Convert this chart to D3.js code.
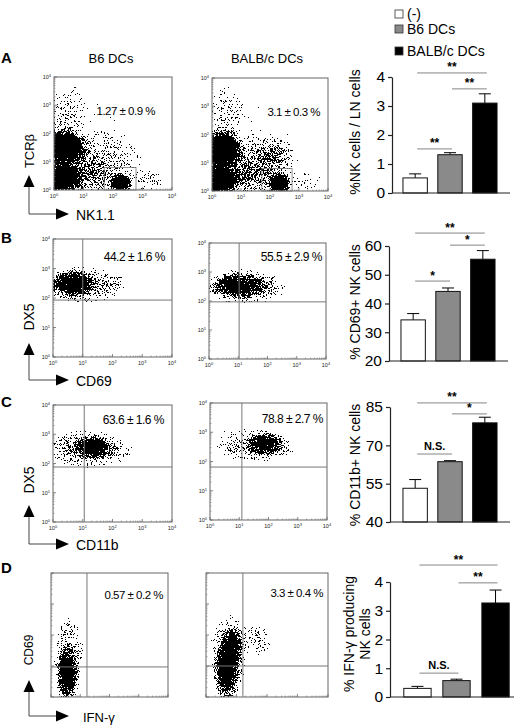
<!DOCTYPE html>
<html><head><meta charset="utf-8">
<script src="https://cdn.jsdelivr.net/npm/d3@7"></script>
<style>body{margin:0;background:#fff} svg{display:block;font-family:"Liberation Sans",Arial,Helvetica,sans-serif}</style>
</head><body><svg id="chart" width="520" height="726"></svg>
<script>
// ---------------- DATA ----------------
const groups = ["(-)", "B6 DCs", "BALB/c DCs"];
const columnTitles = ["B6 DCs", "BALB/c DCs"];
const panelLetters = ["A", "B", "C", "D"];
const xMarkers = ["NK1.1", "CD69", "CD11b", "IFN-γ"];
const yMarkers = ["TCRβ", "DX5", "DX5", "CD69"];

// bar chart values (mean, upper SEM)
const nkMean = [0.52, 1.32, 3.10], nkErr = [0.14, 0.07, 0.32];
const cd69Mean = [34.3, 44.2, 55.4], cd69Err = [2.2, 1.2, 3.0];
const cd11bMean = [53.2, 63.6, 78.8], cd11bErr = [3.4, 0.4, 2.2];
const ifngMean = [0.30, 0.57, 3.27], ifngErr = [0.07, 0.05, 0.45];

const nkTicks = [0, 1, 2, 3, 4];
const cd69Ticks = [20, 30, 40, 50, 60];
const cd11bTicks = [40, 55, 70, 85];
const ifngTicks = [0, 1, 2, 3, 4];

// significance brackets: [fromGroup, toGroup, level (data units), label]
const nkSig = [[0, 1, 1.52, "**"], [1, 2, 3.59, "**"], [0, 2, 4.14, "**"]];
const cd69Sig = [[0, 1, 47.8, "*"], [1, 2, 60.3, "*"], [0, 2, 64.5, "**"]];
const cd11bSig = [[0, 1, 66.6, "N.S."], [1, 2, 82.3, "*"], [0, 2, 86.6, "**"]];
const ifngSig = [[0, 1, 0.83, "N.S."], [1, 2, 3.97, "**"], [0, 2, 4.59, "**"]];

// flow plot percentages
const flowPct = ["1.27 ± 0.9 %", "3.1 ± 0.3 %", "44.2 ± 1.6 %", "55.5 ± 2.9 %",
                 "63.6 ± 1.6 %", "78.8 ± 2.7 %", "0.57 ± 0.2 %", "3.3 ± 0.4 %"];
const decadeTicks = [0, 1, 2, 3, 4];

// cell populations in log10 units: [centerX, centerY, spreadX, spreadY, density]
const popA1 = [[2.0, 2.0, 3.2, 3.2, 0.06], [0.45, 2.7, 0.8, 1.3, 0.25], [1.4, 0.95, 1.8, 1.3, 0.36],
               [1.3, 0.55, 1.0, 0.7, 0.35], [3.2, 0.35, 0.9, 0.55, 0.15], [0.32, 1.48, 0.95, 0.8, 1.0],
               [0.3, 0.42, 0.85, 0.7, 1.0], [2.25, 0.25, 0.45, 0.42, 1.0],
               [0.3, 1.5, 0.72, 0.6, 1.0], [0.28, 0.4, 0.65, 0.52, 1.0], [2.25, 0.25, 0.32, 0.3, 1.0]];
const popA2 = [[2.0, 2.0, 3.2, 3.2, 0.06], [0.45, 2.7, 0.8, 1.3, 0.25], [1.4, 0.95, 1.8, 1.3, 0.36],
               [2.1, 1.25, 0.75, 0.75, 0.42], [1.3, 0.55, 1.0, 0.7, 0.35], [3.2, 0.35, 0.9, 0.55, 0.15],
               [0.3, 1.45, 0.95, 0.85, 1.0], [0.28, 0.4, 0.85, 0.7, 1.0], [2.3, 0.27, 0.48, 0.45, 1.0],
               [0.28, 1.45, 0.72, 0.65, 1.0], [0.26, 0.4, 0.65, 0.52, 1.0], [2.3, 0.27, 0.34, 0.32, 1.0]];
const popB1 = [[1.0, 2.45, 1.6, 0.75, 0.5], [1.9, 2.45, 0.7, 0.45, 0.18], [0.65, 2.48, 0.85, 0.52, 0.9]];
const popB2 = [[1.2, 2.5, 1.6, 0.75, 0.5], [2.1, 2.45, 0.6, 0.45, 0.18], [1.0, 2.52, 1.05, 0.5, 0.9]];
const popC1 = [[1.1, 2.5, 1.6, 0.75, 0.55], [2.2, 2.4, 0.7, 0.5, 0.2], [1.35, 2.55, 0.7, 0.45, 0.9]];
const popC2 = [[1.45, 2.55, 1.55, 0.7, 0.45], [2.5, 2.5, 0.55, 0.45, 0.18], [1.9, 2.6, 0.7, 0.45, 0.9]];
const popD1 = [[1.2, 1.7, 0.8, 0.8, 0.06], [0.6, 1.3, 0.6, 1.6, 0.42], [0.55, 0.75, 0.42, 1.0, 1.0]];
const popD2 = [[1.65, 1.85, 0.7, 0.65, 0.25], [0.75, 1.35, 0.75, 1.6, 0.45], [0.68, 0.85, 0.45, 1.05, 1.0],
               [0.85, 1.65, 0.42, 0.7, 0.9]];

// gates
const gateRectA = [[1.70, 2.78, 0, 0.8], [1.72, 2.76, 0, 0.8]];
const quadGates = [[1.0, 1.93], [1.03, 1.97], [1.05, 1.88], [1.09, 1.81], [1.23, 0.97], [1.21, 1.0]];

// ---------------- LAYOUT ----------------
const svg = d3.select("#chart");
const defs = svg.append("defs");
const FONT = 14;

function grad(id, stops) {
  const g = defs.append("radialGradient").attr("id", id);
  stops.forEach(s => g.append("stop").attr("offset", s[0]).attr("stop-color", "#000").attr("stop-opacity", s[1]));
}
grad("soft", [[0, 1], [0.25, 0.88], [0.5, 0.6], [0.75, 0.25], [1, 0]]);
grad("core", [[0, 1], [0.35, 0.97], [0.6, 0.7], [0.8, 0.35], [1, 0]]);

// stipple filter: turns density into dots
const f = defs.append("filter").attr("id", "stipple").attr("color-interpolation-filters", "sRGB")
  .attr("x", "-5%").attr("y", "-5%").attr("width", "110%").attr("height", "110%");
f.append("feTurbulence").attr("type", "fractalNoise").attr("baseFrequency", 1.7).attr("numOctaves", 1).attr("seed", 11).attr("result", "n");
f.append("feColorMatrix").attr("in", "n").attr("type", "matrix")
  .attr("values", "0 0 0 0 0  0 0 0 0 0  0 0 0 0 0  1 0 0 0 0").attr("result", "nr");
f.append("feComponentTransfer").attr("in", "nr").attr("result", "na")
  .append("feFuncA").attr("type", "table").attr("tableValues", "0.03 0.03 0.12 0.5 0.88 1 1");
f.append("feComposite").attr("in", "SourceAlpha").attr("in2", "na").attr("operator", "arithmetic")
  .attr("k1", 0).attr("k2", 1).attr("k3", -1).attr("k4", 0.5).attr("result", "d");
f.append("feComponentTransfer").attr("in", "d").attr("result", "t")
  .append("feFuncA").attr("type", "discrete").attr("tableValues", "0 1");
f.append("feFlood").attr("flood-color", "#000").attr("result", "blk");
f.append("feComposite").attr("in", "blk").attr("in2", "t").attr("operator", "in");

const flowFrames = [[54, 172, 77, 190], [212, 328, 78, 191], [53, 172, 239, 357], [209, 326, 243, 359],
                    [53, 172, 405, 522], [210, 327, 403, 520], [51, 168, 573, 697], [206, 328, 573, 697]];
const flowPops = [popA1, popA2, popB1, popB2, popC1, popC2, popD1, popD2];
const pctRight = [155, 320, 165, 322, 164, 323, 163, 323];
const pctY = [111, 112, 257, 257, 420, 419, 595, 593];

function drawFlow(i) {
  const [x0, x1, y0, y1] = flowFrames[i];
  const row = Math.floor(i / 2);
  const x = d3.scaleLinear().domain([0, 4]).range([x0, x1]);
  const y = d3.scaleLinear().domain([0, 4]).range([y1, y0]);
  const g = svg.append("g");
  defs.append("clipPath").attr("id", "clip" + i).append("rect")
    .attr("x", x0).attr("y", y0).attr("width", x1 - x0).attr("height", y1 - y0);
  const cg = g.append("g").attr("clip-path", `url(#clip${i})`).append("g").attr("filter", "url(#stipple)");
  cg.selectAll("ellipse").data(flowPops[i]).join("ellipse")
    .attr("cx", d => x(d[0])).attr("cy", d => y(d[1]))
    .attr("rx", d => x(d[2]) - x(0)).attr("ry", d => y(0) - y(d[3]))
    .attr("fill", d => d[4] >= 0.9 ? "url(#core)" : "url(#soft)")
    .attr("fill-opacity", d => Math.min(1, d[4]));
  const minor = [];
  decadeTicks.slice(0, 4).forEach(dd => { for (let k = 2; k < 10; k++) minor.push(dd + Math.log10(k)); });
  g.selectAll("line.mx").data(minor).join("line").attr("x1", d => x(d)).attr("x2", d => x(d))
    .attr("y1", y1).attr("y2", y1 - 1.5).attr("stroke", "#777").attr("stroke-width", 0.6);
  g.selectAll("line.my").data(minor).join("line").attr("y1", d => y(d)).attr("y2", d => y(d))
    .attr("x1", x0).attr("x2", x0 + 1.5).attr("stroke", "#777").attr("stroke-width", 0.6);
  g.selectAll("line.Mx").data(decadeTicks).join("line").attr("x1", d => x(d)).attr("x2", d => x(d))
    .attr("y1", y1).attr("y2", y1 - 3).attr("stroke", "#555").attr("stroke-width", 0.7);
  g.selectAll("line.My").data(decadeTicks).join("line").attr("y1", d => y(d)).attr("y2", d => y(d))
    .attr("x1", x0).attr("x2", x0 + 3).attr("stroke", "#555").attr("stroke-width", 0.7);
  g.append("rect").attr("x", x0).attr("y", y0).attr("width", x1 - x0).attr("height", y1 - y0)
    .attr("fill", "none").attr("stroke", "#666").attr("stroke-width", 1);
  if (row < 3) {
    const tx = g.selectAll("text.tx").data(decadeTicks).join("text")
      .attr("x", d => x(d)).attr("y", y1 + 8).attr("text-anchor", "middle")
      .attr("font-size", 5.5).attr("fill", "#222");
    tx.text("10").append("tspan").attr("dy", -2).attr("font-size", 4).text(d => d);
    const ty = g.selectAll("text.ty").data(decadeTicks).join("text")
      .attr("x", x0 - 3).attr("y", d => y(d) + 2).attr("text-anchor", "end")
      .attr("font-size", 5.5).attr("fill", "#222");
    ty.text("10").append("tspan").attr("dy", -2).attr("font-size", 4).text(d => d);
  }
  if (row === 0) {
    const r = gateRectA[i];
    g.append("rect").attr("x", x(r[0])).attr("y", y(r[3])).attr("width", x(r[1]) - x(r[0]))
      .attr("height", y(r[2]) - y(r[3])).attr("fill", "none").attr("stroke", "#777").attr("stroke-width", 0.8);
  } else {
    const q = quadGates[i - 2];
    g.append("line").attr("x1", x(q[0])).attr("x2", x(q[0])).attr("y1", y0).attr("y2", y1)
      .attr("stroke", "#777").attr("stroke-width", 1);
    g.append("line").attr("x1", x0).attr("x2", x1).attr("y1", y(q[1])).attr("y2", y(q[1]))
      .attr("stroke", "#777").attr("stroke-width", 1);
  }
  g.append("text").attr("x", pctRight[i]).attr("y", pctY[i]).attr("dominant-baseline", "central")
    .attr("text-anchor", "end").attr("font-size", row === 0 || row === 3 ? 11.5 : 12)
    .attr("letter-spacing", -0.5).attr("fill", "#000").text(flowPct[i]);
}
for (let i = 0; i < 8; i++) drawFlow(i);

const titleX = [111, 267];
svg.selectAll("text.coltitle").data(columnTitles).join("text").attr("class", "coltitle")
  .attr("x", (d, i) => titleX[i]).attr("y", 63).attr("text-anchor", "middle").attr("font-size", 13).text(d => d);

const letterY = [63, 243, 407, 573];
svg.selectAll("text.letter").data(panelLetters).join("text").attr("class", "letter")
  .attr("x", 1).attr("y", (d, i) => letterY[i]).attr("font-size", 15).attr("font-weight", "bold").text(d => d);

const arrowTip = [175, 343, 505, 680];
const arrowCorner = [214, 380, 544, 716];
const yLabelY = [151, 317, 480, 650];
const yLabelSize = [13, 14, 14, 12];
const ax = 29;
arrowTip.forEach((tip, r) => {
  const c = arrowCorner[r];
  const g = svg.append("g");
  g.append("path").attr("d", `M${ax},${tip + 10}V${c}H58`).attr("fill", "none").attr("stroke", "#444").attr("stroke-width", 1);
  g.append("path").attr("d", `M${ax},${tip}L${ax - 5.5},${tip + 12}L${ax + 5.5},${tip + 12}Z`).attr("fill", "#000");
  g.append("path").attr("d", `M69,${c}L56,${c - 5.5}L56,${c + 5.5}Z`).attr("fill", "#000");
  g.append("text").attr("x", r === 3 ? 83 : 76).attr("y", c + 1).attr("dominant-baseline", "central")
    .attr("font-size", r === 3 ? 13 : 14).text(xMarkers[r]);
  g.append("text").attr("transform", `translate(${ax},${yLabelY[r]}) rotate(-90)`).attr("text-anchor", "middle")
    .attr("dominant-baseline", "central").attr("font-size", yLabelSize[r]).text(yMarkers[r]);
});

// ---------------- BAR CHARTS ----------------
const barColors = ["#ffffff", "#8a8a8a", "#000000"];
function drawBar(c) {
  const g = svg.append("g");
  const x = d3.scaleBand().domain(groups).range(c.xr).paddingInner(0.3).paddingOuter(0.2);
  const y = d3.scaleLinear().domain(c.domain).range([c.yb, c.yt]);
  const base = y(c.domain[0]);
  const mid = i => x(groups[i]) + x.bandwidth() / 2;
  g.selectAll("line.err").data(c.mean).join("line")
    .attr("x1", (d, i) => mid(i)).attr("x2", (d, i) => mid(i))
    .attr("y1", d => y(d)).attr("y2", (d, i) => y(d + c.err[i])).attr("stroke", "#000").attr("stroke-width", 1);
  g.selectAll("line.cap").data(c.mean).join("line")
    .attr("x1", (d, i) => mid(i) - 6).attr("x2", (d, i) => mid(i) + 6)
    .attr("y1", (d, i) => y(d + c.err[i])).attr("y2", (d, i) => y(d + c.err[i])).attr("stroke", "#000").attr("stroke-width", 1);
  g.selectAll("rect.bar").data(c.mean).join("rect")
    .attr("x", (d, i) => x(groups[i])).attr("y", d => y(d)).attr("width", x.bandwidth())
    .attr("height", d => base - y(d)).attr("fill", (d, i) => barColors[i]).attr("stroke", "#111").attr("stroke-width", 1);
  const axis = g.append("g").attr("transform", `translate(${c.axisX},0)`)
    .call(d3.axisLeft(y).tickValues(c.ticks).tickFormat(d3.format("d")).tickSize(4).tickSizeOuter(0).tickPadding(3));
  axis.selectAll("text").attr("font-size", FONT + 1.5).attr("font-family", null).attr("fill", "#000");
  axis.selectAll("line,path").attr("stroke", "#222").attr("stroke-width", 1.2);
  g.append("line").attr("x1", c.axisX).attr("x2", c.xEnd).attr("y1", base).attr("y2", base)
    .attr("stroke", "#222").attr("stroke-width", 1.2);
  c.sig.forEach(s => {
    g.append("line").attr("x1", mid(s[0]) + 2).attr("x2", mid(s[1]) + 2).attr("y1", y(s[2])).attr("y2", y(s[2]))
      .attr("stroke", "#777").attr("stroke-width", 0.9);
    g.append("text").attr("x", (mid(s[0]) + mid(s[1])) / 2 + 2).attr("y", y(s[2]) - (s[3] === "N.S." ? 4 : 1.5))
      .attr("text-anchor", "middle").attr("font-size", s[3] === "N.S." ? 11 : 12).attr("font-weight", "bold")
      .text(s[3]);
  });
  const lab = g.append("text").attr("transform", `translate(${c.labX},${c.labY}) rotate(-90)`)
    .attr("text-anchor", "middle").attr("font-size", FONT);
  if (c.label.length === 1) lab.attr("dominant-baseline", "central").text(c.label[0]);
  else c.label.forEach((t, k) => lab.append("tspan").attr("x", 0).attr("y", k === 0 ? 0 : 16).text(t));
}

drawBar({mean: nkMean, err: nkErr, ticks: nkTicks, sig: nkSig, domain: [0, 4], yb: 193, yt: 77,
  xr: [396, 504], axisX: 392, xEnd: 510, label: ["%NK cells / LN cells"], labX: 355, labY: 132});
drawBar({mean: cd69Mean, err: cd69Err, ticks: cd69Ticks, sig: cd69Sig, domain: [20, 60], yb: 361, yt: 246,
  xr: [394, 502], axisX: 389, xEnd: 508, label: ["% CD69+ NK cells"], labX: 355, labY: 302});
drawBar({mean: cd11bMean, err: cd11bErr, ticks: cd11bTicks, sig: cd11bSig, domain: [40, 85], yb: 522, yt: 407,
  xr: [396, 504], axisX: 390, xEnd: 510, label: ["% CD11b+ NK cells"], labX: 355, labY: 465});
drawBar({mean: ifngMean, err: ifngErr, ticks: ifngTicks, sig: ifngSig, domain: [0, 4], yb: 697, yt: 582,
  xr: [396, 517], axisX: 390, xEnd: 514, label: ["% IFN-γ producing", "NK cells"], labX: 354, labY: 634});

const legY = [14, 29, 51];
const leg = svg.selectAll("g.leg").data(groups).join("g").attr("class", "leg")
  .attr("transform", (d, i) => `translate(395,${legY[i]})`);
leg.append("rect").attr("x", 0).attr("y", -4).attr("width", 8).attr("height", 8)
  .attr("fill", (d, i) => barColors[i]).attr("stroke", "#333").attr("stroke-width", 0.8);
leg.append("text").attr("x", 12).attr("y", 0).attr("dominant-baseline", "central").attr("font-size", FONT).text(d => d);
</script></body></html>
